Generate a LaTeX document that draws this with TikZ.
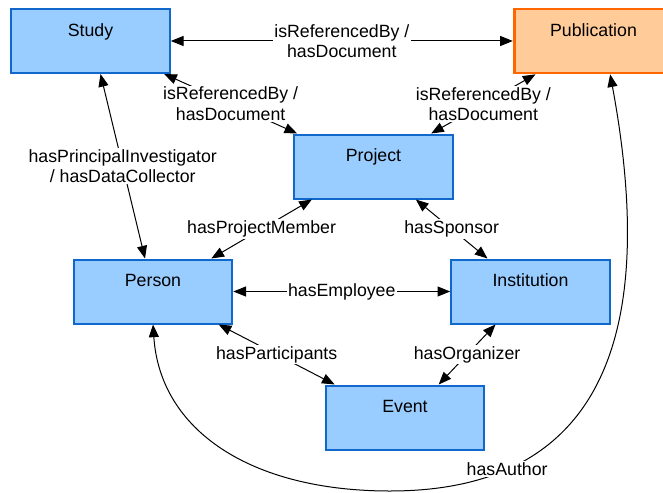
\documentclass[tikz,border=0pt]{standalone}
\usepackage{fontspec}
\setmainfont{Liberation Sans}
\usetikzlibrary{arrows.meta}
\definecolor{boxblue}{RGB}{16,104,204}
\definecolor{fillblue}{RGB}{153,204,255}
\definecolor{boxorange}{RGB}{255,102,0}
\definecolor{fillorange}{RGB}{255,204,153}
\tikzset{
every node/.style={font=\fontsize{13.3}{15.3}\selectfont},
classbox/.style={ % Sets the properties for each class box
draw=boxblue,
fill=fillblue,
line width=1.5pt,
minimum width=119pt,
minimum height=48pt,
inner ysep=0pt,
text height=20.5pt, % Puts the name near the top edge
text depth=27.5pt},
pubbox/.style={classbox, draw=boxorange, fill=fillorange, line width=2pt},
rel/.style={fill=white, inner sep=1pt, align=center}, % Label sitting on a relation
every edge/.style={ % Sets the properties for each relation
draw,
<->,
line width=0.75pt}}

\begin{document}
\begin{tikzpicture}[x=0.75pt, y=-0.75pt, >={Triangle[length=9.5pt,width=7.5pt]}]
	\useasboundingbox (0,0) rectangle (663,492);
	\node[classbox] (study) at (90.5,41) {Study};
	\node[pubbox] (pub) at (593.5,41) {Publication};
	\node[classbox] (project) at (373.5,166.5) {Project};
	\node[classbox] (person) at (153,291.5) {Person};
	\node[classbox] (inst) at (530.5,291.5) {Institution};
	\node[classbox] (event) at (405,417.5) {Event};
	\coordinate (low) at (390,491);
	\draw (study.east) edge node[rel]{isReferencedBy /\\hasDocument} (pub.west);
	\draw ([xshift=-5pt]study.south east) edge node[rel]{isReferencedBy /\\hasDocument} ([xshift=3pt]project.north west);
	\draw ([xshift=17pt]pub.south west) edge node[rel]{isReferencedBy /\\hasDocument} ([xshift=-17pt]project.north east);
	\draw ([xshift=7.5pt]study.south) edge node[rel]{hasPrincipalInvestigator\\/ hasDataCollector} ([xshift=-6pt]person.north);
	\draw ([xshift=-16.5pt]person.north east) edge node[rel]{hasProjectMember} ([xshift=14pt]project.south west);
	\draw ([xshift=-28.5pt]project.south east) edge node[rel]{hasSponsor} ([xshift=28pt]inst.north west);
	\draw (person.east) edge node[rel]{hasEmployee} (inst.west);
	\draw ([xshift=-11pt]person.south east) edge node[rel]{hasParticipants} ([xshift=7.5pt]event.north west);
	\draw ([xshift=34pt]inst.south west) edge node[rel]{hasOrganizer} ([xshift=-35pt]event.north east);
	\draw[<->, line width=0.75pt] (person.south) .. controls (160,430) and (250,491) .. (low)
		.. controls (625,491) and (652,300) .. ([xshift=12.5pt]pub.south) node[rel, pos=0.2]{hasAuthor};
\end{tikzpicture}
\end{document}
